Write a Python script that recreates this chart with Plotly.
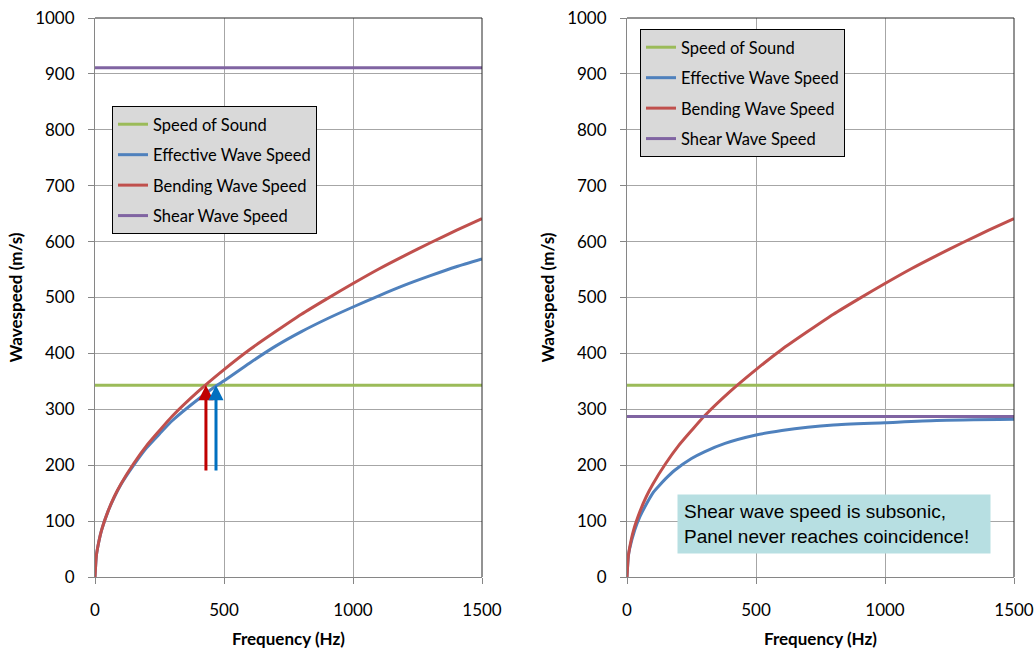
import plotly.graph_objects as go

# ---------------- data ----------------
freq_line = [0, 1500]
sound_speed = [343, 343]
shear_left = [911, 911]
shear_right = [287, 287]

freq_bend = [0, 5, 10, 25, 50, 75, 100, 150, 200, 250, 300, 400, 500, 600,
             700, 800, 900, 1000, 1100, 1200, 1300, 1400, 1500]
bend_speed = [0, 37, 52, 83, 117, 144, 166, 203, 235, 262, 288, 332, 371, 407,
              439, 470, 498, 525, 551, 575, 598, 620, 641]

freq_eff_left = [0, 5, 10, 25, 50, 75, 100, 150, 200, 250, 300, 400, 470, 500,
                 600, 700, 800, 900, 1000, 1100, 1200, 1300, 1400, 1500]
eff_left = [0, 37, 52, 83, 117, 143, 165, 200, 231, 256, 280, 318, 342, 351,
            383, 413, 439, 462, 483, 503, 522, 539, 555, 569]

freq_eff_right = [0, 5, 10, 30, 50, 70, 100, 120, 150, 185, 250, 300, 380, 500,
                  600, 700, 800, 1000, 1200, 1500]
eff_right = [0, 36, 50, 84, 108, 126, 150, 161, 176, 191, 212, 224, 239, 254,
             262, 268, 272, 276, 280, 282]

coincidence_freq = [430, 469]   # red arrow, blue arrow
arrow_base = 188

x_ticks = [0, 500, 1000, 1500]
y_ticks = list(range(0, 1001, 100))

GREEN = "#9bbb59"
BLUE = "#4f81bd"
RED = "#c0504d"
PURPLE = "#8064a2"

FONT = "Lato"

fig = go.Figure()

def add_panel(xa, ya, legend, shear, freq_eff, eff):
    fig.add_trace(go.Scatter(x=freq_line, y=sound_speed, mode="lines", name="Speed of Sound",
                             line=dict(color=GREEN, width=3), xaxis=xa, yaxis=ya,
                             legend=legend, legendgroup=legend + "a"))
    fig.add_trace(go.Scatter(x=freq_eff, y=eff, mode="lines", name="Effective Wave Speed",
                             line=dict(color=BLUE, width=3, shape="spline", smoothing=0.6),
                             xaxis=xa, yaxis=ya, legend=legend, legendgroup=legend + "b"))
    fig.add_trace(go.Scatter(x=freq_bend, y=bend_speed, mode="lines", name="Bending Wave Speed",
                             line=dict(color=RED, width=3, shape="spline", smoothing=0.6),
                             xaxis=xa, yaxis=ya, legend=legend, legendgroup=legend + "c"))
    fig.add_trace(go.Scatter(x=freq_line, y=shear, mode="lines", name="Shear Wave Speed",
                             line=dict(color=PURPLE, width=3), xaxis=xa, yaxis=ya,
                             legend=legend, legendgroup=legend + "d"))

add_panel("x", "y", "legend", shear_left, freq_eff_left, eff_left)
add_panel("x2", "y2", "legend2", shear_right, freq_eff_right, eff_right)

W, H = 1035, 651
dom_x1 = [95 / W, 482 / W]
dom_x2 = [627 / W, 1014 / W]
dom_y = [1 - 577 / H, 1 - 18 / H]

axis_common = dict(
    showline=True, linecolor="#868686", linewidth=1,
    showgrid=True, gridcolor="#a6a6a6", gridwidth=1,
    ticks="outside", ticklen=6, tickcolor="#868686", tickwidth=1,
    tickfont=dict(family=FONT, size=17, color="black"),
    zeroline=False, automargin=False,
)

for i, dx in enumerate([dom_x1, dom_x2]):
    sfx = "" if i == 0 else str(i + 1)
    fig.layout["xaxis" + sfx] = dict(
        axis_common, domain=dx, range=[0, 1500], tickvals=x_ticks,
        anchor="y" + sfx, ticklabelstandoff=12,
        title=dict(text="<b>Frequency (Hz)</b>", font=dict(family=FONT, size=17, color="black"),
                   standoff=13),
    )
    fig.layout["yaxis" + sfx] = dict(
        axis_common, domain=dom_y, range=[0, 1000], tickvals=y_ticks,
        anchor="x" + sfx, ticklabelstandoff=10,
        title=dict(text="<b>Wavespeed (m/s)</b>", font=dict(family=FONT, size=17, color="black"),
                   standoff=8),
    )

# dark plot-area border on top and right
shapes = []
for xr, yr in [("x domain", "y domain"), ("x2 domain", "y2 domain")]:
    shapes.append(dict(type="line", xref=xr, yref=yr, x0=0, x1=1, y0=1, y1=1,
                       line=dict(color="#262626", width=1)))
    shapes.append(dict(type="line", xref=xr, yref=yr, x0=1, x1=1, y0=0, y1=1,
                       line=dict(color="#262626", width=1)))

annotations = []
for f, col in zip(coincidence_freq, ["#c00000", "#0070c0"]):
    annotations.append(dict(x=f, y=sound_speed[0], ax=f, ay=arrow_base, xref="x", yref="y",
                            axref="x", ayref="y", text="", showarrow=True, arrowhead=2,
                            arrowsize=1.0, arrowwidth=3, arrowcolor=col))

annotations.append(dict(
    x=833.5 / W, y=1 - 523.5 / H, xref="paper", yref="paper", xanchor="center", yanchor="middle",
    text="Shear wave speed is subsonic,<br>Panel never reaches coincidence!",
    showarrow=False, align="left", bgcolor="#b7dfe2", borderpad=6, width=300,
    font=dict(family="Liberation Sans", size=19, color="black"),
))

legend_style = dict(bgcolor="#d9d9d9", bordercolor="black", borderwidth=1,
                    font=dict(family=FONT, size=16.5, color="black"),
                    tracegroupgap=6, xanchor="left", yanchor="top", itemwidth=30)

fig.update_layout(
    width=W, height=H,
    margin=dict(l=0, r=0, t=0, b=0, autoexpand=False),
    paper_bgcolor="white", plot_bgcolor="white",
    showlegend=True,
    legend=dict(legend_style, x=112 / W, y=1 - 106 / H),
    legend2=dict(legend_style, x=640 / W, y=1 - 29 / H),
    shapes=shapes,
    annotations=annotations,
    font=dict(family=FONT, color="black"),
)

fig.write_html("out.html")
